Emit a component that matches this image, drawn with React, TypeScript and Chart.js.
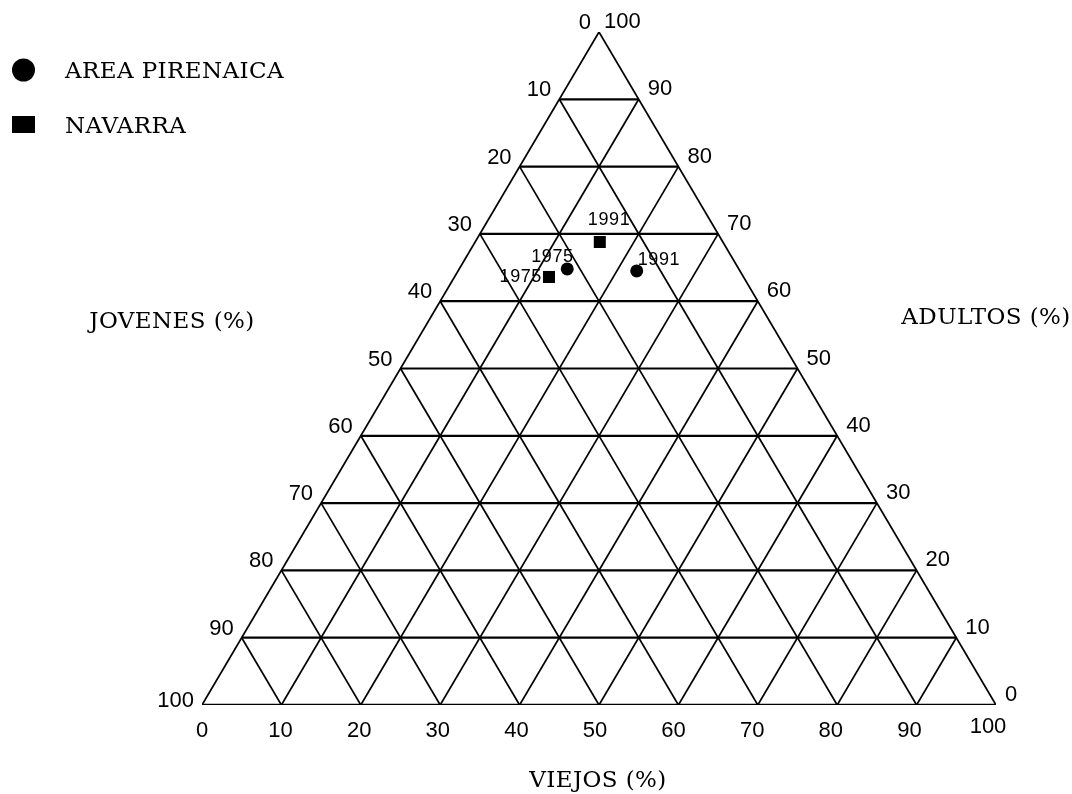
import React, { useEffect, useRef } from "react";
import { Chart, registerables } from "chart.js";

Chart.register(...registerables);

// ---- data ----
const years = ["1975", "1991"];
const seriesNames = ["AREA PIRENAICA", "NAVARRA"];
// Area pirenaica (jovenes, adultos, viejos) in %
const apJovenes = [21.6, 13.0];
const apAdultos = [64.8, 64.5];
const apViejos = [13.6, 22.5];
// Navarra
const navJovenes = [24.5, 15.5];
const navAdultos = [63.6, 68.8];
const navViejos = [11.9, 15.7];

const gridLevels = [10, 20, 30, 40, 50, 60, 70, 80, 90];
const tickValues = [0, 10, 20, 30, 40, 50, 60, 70, 80, 90, 100];
const axisTitles = { jovenes: "JOVENES (%)", adultos: "ADULTOS (%)", viejos: "VIEJOS (%)" };

// ternary -> cartesian (x along viejos axis, y = adultos level)
const toXY = (adultos: number, viejos: number) => ({ x: viejos + adultos / 2, y: adultos });

const SERIF = '"DejaVu Serif", serif';
const SANS = '"Liberation Sans", "DejaVu Sans", sans-serif';

function lineDs(points: { x: number; y: number }[], width: number) {
  return {
    type: "scatter" as const,
    data: points,
    showLine: true,
    borderColor: "#000",
    backgroundColor: "#000",
    borderWidth: width,
    pointRadius: 0,
    pointHoverRadius: 0,
    fill: false,
  };
}

export default function App() {
  const ref = useRef<HTMLCanvasElement>(null);
  useEffect(() => {
    document.body.style.margin = "0";
    const datasets: any[] = [];
    // horizontal: constant adultos
    gridLevels.forEach((a) => datasets.push(lineDs([toXY(a, 0), toXY(a, 100 - a)], 2.2)));
    // constant viejos (parallel to left edge)
    gridLevels.forEach((v) => datasets.push(lineDs([toXY(0, v), toXY(100 - v, v)], 1.7)));
    // constant jovenes (parallel to right edge)
    gridLevels.forEach((j) => datasets.push(lineDs([toXY(0, 100 - j), toXY(100 - j, 0)], 1.7)));
    // outline
    datasets.push(lineDs([toXY(0, 0), toXY(0, 100)], 2.4));
    datasets.push(lineDs([toXY(0, 0), toXY(100, 0)], 1.7));
    datasets.push(lineDs([toXY(0, 100), toXY(100, 0)], 1.7));

    const apPts = years.map((_, i) => toXY(apAdultos[i], apViejos[i]));
    const navPts = years.map((_, i) => toXY(navAdultos[i], navViejos[i]));
    datasets.push({
      label: seriesNames[0],
      data: apPts,
      pointStyle: "circle",
      pointRadius: 6.5,
      backgroundColor: "#000",
      borderColor: "#000",
      borderWidth: 0,
      showLine: false,
    });
    datasets.push({
      label: seriesNames[1],
      data: navPts,
      pointStyle: "rect",
      pointRadius: 8.5,
      backgroundColor: "#000",
      borderColor: "#000",
      borderWidth: 0,
      showLine: false,
    });

    const labelPlugin = {
      id: "ternaryLabels",
      afterDraw(chart: any) {
        const ctx = chart.ctx;
        const xs = chart.scales.x;
        const ys = chart.scales.y;
        const px = (p: { x: number; y: number }) => ({ x: xs.getPixelForValue(p.x), y: ys.getPixelForValue(p.y) });
        ctx.save();
        ctx.fillStyle = "#000";
        ctx.textBaseline = "middle";
        ctx.font = "22px " + SANS;
        // left labels (jovenes): value j at left edge point adultos = 100 - j
        tickValues.forEach((j) => {
          const p = px(toXY(100 - j, 0));
          ctx.textAlign = "right";
          ctx.fillText(String(j), p.x - 8, p.y - (j === 100 ? 4 : 9));
        });
        // right labels (adultos): value a at right edge point
        tickValues.forEach((a) => {
          const p = px(toXY(a, 100 - a));
          ctx.textAlign = "left";
          ctx.fillText(String(a), p.x + (a === 100 ? 5 : 9), p.y - 10);
        });
        // bottom labels (viejos)
        tickValues.forEach((v) => {
          const p = px(toXY(0, v));
          ctx.textAlign = "center";
          ctx.fillText(String(v), p.x - v * 0.08, p.y + (v === 100 ? 22 : 26));
        });
        // point labels
        ctx.font = "18px " + SANS;
        ctx.letterSpacing = "0.6px";
        ctx.textAlign = "left";
        const ap0 = px(apPts[0]);
        const ap1 = px(apPts[1]);
        const nv0 = px(navPts[0]);
        const nv1 = px(navPts[1]);
        ctx.fillText(years[0], ap0.x - 36, ap0.y - 12);
        ctx.fillText(years[1], ap1.x + 1, ap1.y - 11);
        ctx.fillText(years[1], nv1.x - 12, nv1.y - 22);
        ctx.textAlign = "right";
        ctx.fillText(years[0], nv0.x - 7, nv0.y);
        // axis titles
        ctx.font = "23px " + SERIF;
        ctx.letterSpacing = "0.4px";
        ctx.textAlign = "center";
        ctx.fillText(axisTitles.jovenes, 172, 322);
        ctx.fillText(axisTitles.adultos, 986, 318);
        ctx.fillText(axisTitles.viejos, 598, 781);
        // legend
        ctx.beginPath();
        ctx.arc(23.5, 70, 11.5, 0, Math.PI * 2);
        ctx.fill();
        ctx.fillRect(12, 116, 23, 17);
        ctx.textAlign = "left";
        ctx.font = "23px " + SERIF;
        ctx.letterSpacing = "0.4px";
        ctx.fillText(seriesNames[0], 65, 72);
        ctx.fillText(seriesNames[1], 65, 127);
        ctx.restore();
      },
    };

    const chart = new Chart(ref.current as HTMLCanvasElement, {
      type: "scatter",
      data: { datasets },
      options: {
        animation: false,
        responsive: false,
        events: [],
        layout: { padding: { left: 202, right: 76, top: 32, bottom: 89 } },
        scales: {
          x: { type: "linear", min: 0, max: 100, display: false },
          y: { type: "linear", min: 0, max: 100, display: false },
        },
        plugins: { legend: { display: false }, tooltip: { enabled: false } },
      },
      plugins: [labelPlugin],
    } as any);
    return () => chart.destroy();
  }, []);
  return (
    <div style={{ width: 1072, height: 794, background: "#fff" }}>
      <canvas ref={ref} width={1072} height={794} />
    </div>
  );
}
